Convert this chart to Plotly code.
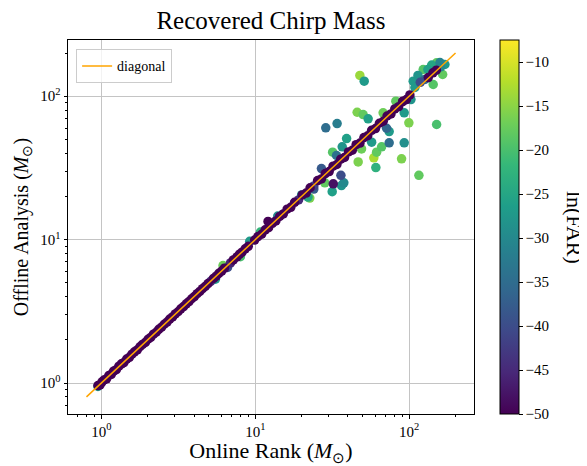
import numpy as np
import plotly.graph_objects as go

# ---- data ----
band_x = [0.95, 0.98, 1.01, 1.04, 1.08, 1.12, 1.16, 1.2, 1.25, 1.3, 1.35, 1.4, 1.46, 1.52, 1.58, 1.64, 1.71, 1.78,
          1.85, 1.93, 2.01, 2.09, 2.18, 2.27, 2.36, 2.46, 2.56, 2.67, 2.78, 2.9, 3.02, 3.15, 3.28, 3.42, 3.56, 3.71,
          3.86, 4.02, 4.19, 4.36, 4.54, 4.73, 4.93, 5.13, 5.35, 5.57, 5.8, 6.05, 6.3, 6.9, 7.2, 7.6, 7.9, 8.2, 8.6,
          9.0, 9.9, 10.4, 11.0, 11.6, 12.2, 12.9, 13.6, 14.4, 15.2, 16.1, 17.0, 18.0, 19.1, 20.2, 21.4, 22.7, 24.0,
          25.4, 26.9, 28.5, 30.2, 32.0, 33.9, 35.9, 38.0, 40.3, 42.7, 45.2, 47.9, 50.8, 53.8, 57.0, 60.4, 64.0, 67.8,
          71.8, 76.1, 80.6, 85.4, 90.5, 95.9, 101, 133, 142.6, 150]
band_y = [0.96, 0.97, 1.02, 1.05, 1.07, 1.13, 1.15, 1.21, 1.24, 1.31, 1.36, 1.39, 1.47, 1.51, 1.59, 1.65, 1.7, 1.79,
          1.86, 1.92, 2.02, 2.08, 2.19, 2.26, 2.37, 2.45, 2.57, 2.66, 2.79, 2.89, 3.03, 3.14, 3.29, 3.41, 3.57, 3.7,
          3.87, 4.01, 4.2, 4.35, 4.55, 4.72, 4.94, 5.12, 5.36, 5.56, 5.82, 6.03, 6.32, 6.88, 7.22, 7.58, 7.92, 8.18,
          8.62, 8.98, 9.92, 10.5, 10.9, 11.7, 12.1, 13.0, 13.5, 14.5, 15.1, 16.3, 16.8, 18.2, 18.9, 20.5, 21.1, 23.0,
          23.7, 25.8, 26.5, 28.9, 29.8, 32.5, 33.4, 36.4, 37.4, 40.9, 42.0, 45.9, 47.1, 51.5, 53.0, 57.8, 59.5, 64.8,
          66.9, 72.8, 75.2, 81.5, 84.6, 91.5, 94.8, 102, 135, 145.7, 152]
band_far = [-55, -60, -52, -58, -62, -55, -57, -60, -53, -58, -61, -56, -59, -52, -60, -57, -55, -62, -58, -54,
            -60, -56, -59, -53, -61, -57, -55, -60, -58, -52, -59, -56, -61, -54, -58, -60, -55, -57, -59, -53,
            -56, -60, -58, -44, -55, -57, -52, -59, -54, -46, -58, -55, -60, -52, -57, -54, -56, -58, -53, -60,
            -55, -57, -52, -59, -56, -54, -58, -55, -45, -60, -53, -57, -42, -55, -58, -52, -56, -54, -59, -53,
            -57, -55, -60, -52, -56, -58, -54, -57, -53, -55, -59, -52, -56, -58, -54, -57, -55, -53, -58, -52, -55]

extra_x = [0.95, 6.17, 9.2, 5.5, 10.8, 6.6, 12.1, 20.0, 24.0, 22.0, 8.0, 14.0]
extra_y = [0.947, 6.59, 9.73, 5.3, 11.3, 6.4, 13.4, 20.5, 22.5, 19.8, 7.6, 14.6]
extra_far = [-27, -17, -27, -27, -22, -40, -50, -28, -38, -25, -20, -30]

off_x = [47.8, 51.0, 45.9, 50.2, 54.1, 28.7, 34.0, 39.2, 36.7, 31.8, 33.7, 49.0, 57.0, 66.2, 74.1, 92.8, 61.4,
         58.9, 46.6, 60.7, 89.2, 115.6, 150.7, 99.5, 92.8, 36.0, 32.1, 37.6, 36.3, 31.6, 26.9, 28.3, 22.6, 71.3,
         74.1, 67.7, 81.9,
         106.2, 123.3, 150.7, 170.6, 143.2, 164.9, 114, 132.3, 158.4, 126.5, 136.3, 108.9, 102.6, 91.0, 118, 160, 140]
off_y = [139.5, 127.2, 77.3, 74.5, 69.6, 60.2, 64.5, 50.7, 44.4, 40.7, 38.6, 42.9, 47.8, 44.4, 47.3, 47.3, 40.7,
         37.2, 34.8, 31.8, 36.6, 28.1, 63.5, 65.2, 76.6, 28.1, 24.5, 24.9, 23.8, 21.6, 31.3, 24.9, 19.5, 59.8,
         56.7, 76.6, 92.3,
         127.2, 153.6, 171.0, 166.4, 120.7, 141.7, 139.5, 153.6, 171.8, 130.8, 148.8, 115, 94.8, 92.3, 125, 160, 165]
off_far = [-14, -27, -16, -18, -26, -35, -32, -26, -28, -19, -34, -17, -27, -19, -35, -29, -18,
           -13, -16, -23, -16, -18, -20, -16, -27, -40, -48, -30, -28, -26, -38, -18, -16, -36,
           -27, -17, -18,
           -27, -19, -18, -27, -19, -18, -28, -26, -31, -36, -17, -27, -28, -50, -40, -30, -25]

diag_x = [0.8, 200]
diag_y = [0.8, 200]

x_ticks = [1, 10, 100]
x_ticktext = ["10<sup>0</sup>", "10<sup>1</sup>", "10<sup>2</sup>"]
minor_vals = [0.7, 0.8, 0.9, 2, 3, 4, 5, 6, 7, 8, 9, 20, 30, 40, 50, 60, 70, 80, 90, 200]
cbar_ticks = [-10, -15, -20, -25, -30, -35, -40, -45, -50]

# ---- assemble ----
xs = np.array(off_x + extra_x + band_x, dtype=float)
ys = np.array(off_y + extra_y + band_y, dtype=float)
cs = np.array(off_far + extra_far + band_far, dtype=float)
order = np.argsort(-cs, kind="stable")
xs, ys, cs = xs[order], ys[order], cs[order]

FONT = "Liberation Serif"
W, H = 579, 458  # page body has an 8px margin

fig = go.Figure()
fig.add_trace(go.Scatter(
    x=xs, y=ys, mode="markers", showlegend=False,
    marker=dict(size=9.5, color=cs, colorscale="Viridis", cmin=-50, cmax=-7.5,
                line=dict(width=0),
                colorbar=dict(x=1.064, xanchor="left", y=0.5, yanchor="middle", len=1, lenmode="fraction",
                              thickness=18.5, outlinecolor="black", outlinewidth=1,
                              tickvals=cbar_ticks, ticks="outside", ticklen=3.5, tickcolor="black",
                              tickfont=dict(family=FONT, size=15, color="black"), xpad=0, ypad=0)),
))
fig.add_trace(go.Scatter(x=diag_x, y=diag_y, mode="lines", name="diagonal",
                         line=dict(color="#ffa500", width=1.5)))

axis_common = dict(type="log", showline=True, mirror=True, linecolor="black", linewidth=1,
                   showgrid=True, gridcolor="#c4c4c4", gridwidth=1, zeroline=False,
                   ticks="outside", ticklen=3.5, tickcolor="black",
                   tickmode="array", tickvals=x_ticks, ticktext=x_ticktext,
                   tickfont=dict(family=FONT, size=15, color="black"),
                   minor=dict(tickmode="array", tickvals=minor_vals, ticks="outside", ticklen=2,
                              tickcolor="black", showgrid=False))

fig.update_layout(
    width=W, height=H,
    margin=dict(l=60, r=113, t=32, b=52, autoexpand=False),
    paper_bgcolor="white", plot_bgcolor="white",
    font=dict(family=FONT, color="black"),
    title=dict(text="Recovered Chirp Mass", x=0.5, xanchor="center", xref="paper",
               y=1 - 12 / H, yanchor="middle", yref="container",
               font=dict(family=FONT, size=25, color="black")),
    xaxis=dict(axis_common, range=[-0.217, 2.421],
               title=dict(text="Online Rank (<i>M</i><sub>⊙</sub>)", standoff=3,
                          font=dict(family=FONT, size=22))),
    yaxis=dict(axis_common, range=[-0.216, 2.392],
               title=dict(text="Offline Analysis (<i>M</i><sub>⊙</sub>)", standoff=6,
                          font=dict(family=FONT, size=20))),
    legend=dict(x=0.02, y=0.975, xanchor="left", yanchor="top", bgcolor="rgba(255,255,255,0.8)",
                bordercolor="#cccccc", borderwidth=1, font=dict(family=FONT, size=14, color="black"),
                tracegroupgap=0, itemwidth=30),
    annotations=[dict(text="ln(FAR)", x=1.249, y=0.5, xref="paper", yref="paper", showarrow=False,
                      textangle=90, xanchor="center", yanchor="middle",
                      font=dict(family=FONT, size=22, color="black"))],
)

fig.write_html("out.html")
